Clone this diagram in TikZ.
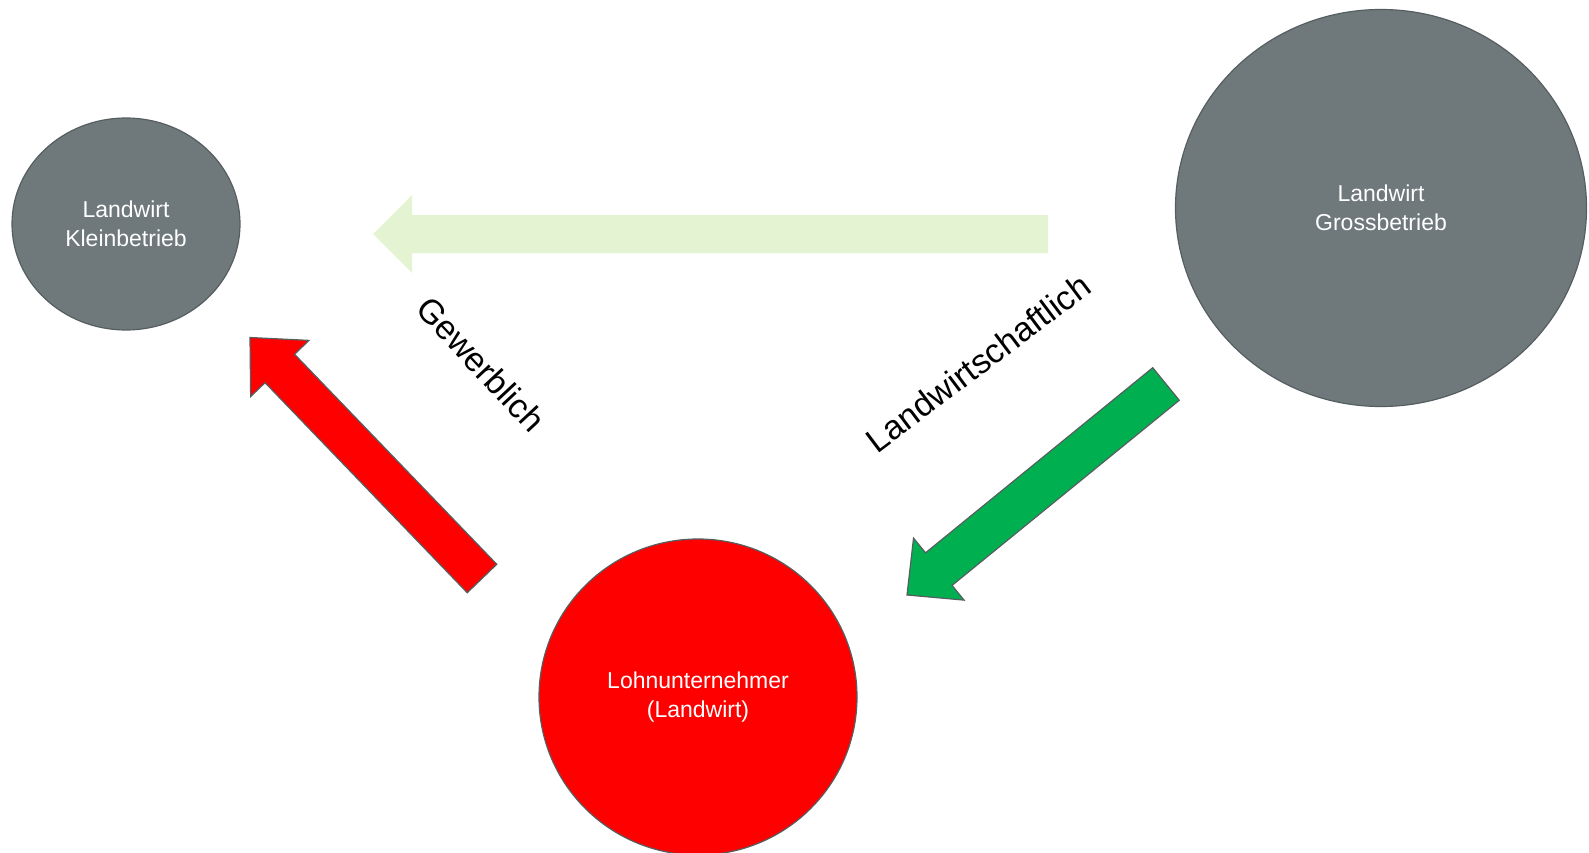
\documentclass[tikz,border=0pt]{standalone}
\usepackage{fontspec}
\setmainfont{Liberation Sans}
\usetikzlibrary{calc,shapes.geometric}
\definecolor{farmgray}{HTML}{6F797C}
\definecolor{edgegray}{HTML}{565E60}
\definecolor{lohnred}{HTML}{FF0000}
\definecolor{agrigreen}{HTML}{00B050}
\definecolor{palegreen}{HTML}{E4F3D2}
\newcommand{\blockarrow}[6]{%
  % #1 style, #2 tail, #3 tip, #4 half shaft, #5 half head, #6 head length
  \coordinate (hb) at ($(#3)!#6!(#2)$);
  \path[#1] ($(#2)!#4!90:(#3)$) -- ($(hb)!#4!90:(#3)$) -- ($(hb)!#5!90:(#3)$)
    -- (#3) -- ($(hb)!#5!-90:(#3)$) -- ($(hb)!#4!-90:(#3)$)
    -- ($(#2)!#4!-90:(#3)$) -- cycle;
}
\begin{document}
\begin{tikzpicture}[x=1pt,y=-1pt,
  farm/.style={ellipse, draw=edgegray, line width=1.2pt, inner sep=0pt, text=white,
    align=center, font=\fontsize{23}{29}\selectfont},
  lbl/.style={font=\fontsize{34}{40}\selectfont, text=black, inner sep=0pt}]
\useasboundingbox (0,0) rectangle (1589,853);
\fill[white] (0,0) rectangle (1589,853);

\node[farm, fill=farmgray, minimum width=228pt, minimum height=212pt] (klein) at (126,224) {Landwirt\\Kleinbetrieb};
\node[farm, fill=farmgray, minimum width=411pt, minimum height=397pt] (gross) at (1381,208) {Landwirt\\Grossbetrieb};
\node[farm, fill=lohnred, minimum width=318pt, minimum height=316pt] (lohn) at (698,697) {Lohnunternehmer\\(Landwirt)};

\coordinate (pgTail) at (1048,234);
\coordinate (pgTip) at (373,234);
\coordinate (rTail) at (482,578.5);
\coordinate (rTip) at (250,337.5);
\coordinate (gTail) at (1166,384);
\coordinate (gTip) at (907,595);

\blockarrow{fill=palegreen}{pgTail}{pgTip}{19pt}{39pt}{39pt}
\blockarrow{fill=lohnred, draw=edgegray, line width=1.2pt, line join=miter}{rTail}{rTip}{20.5pt}{40.5pt}{43pt}
\blockarrow{fill=agrigreen, draw=edgegray, line width=1.2pt, line join=miter}{gTail}{gTip}{21pt}{40pt}{41pt}

\node[lbl, rotate=-47] (gew) at (481,364) {Gewerblich};
\node[lbl, rotate=37] (lw) at (978,363) {Landwirtschaftlich};
\end{tikzpicture}
\end{document}
